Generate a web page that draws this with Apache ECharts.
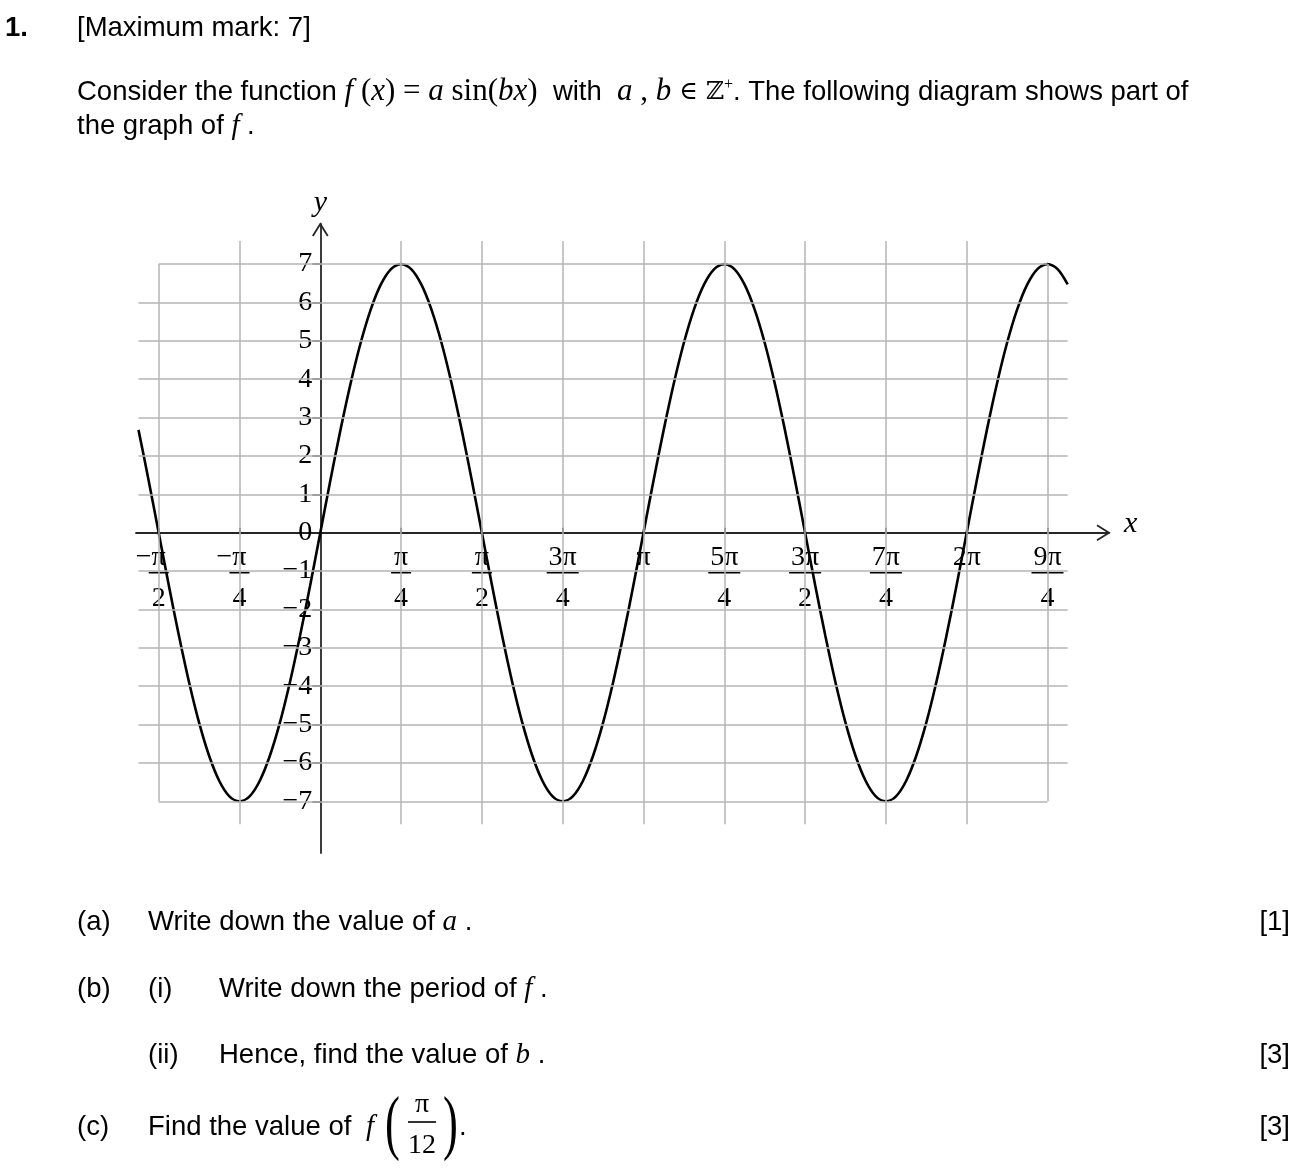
<!DOCTYPE html>
<html>
<head>
<meta charset="utf-8">
<script src="https://cdn.jsdelivr.net/npm/echarts@6/dist/echarts.min.js"></script>
<style>
html,body{margin:0;padding:0;background:#fff;}
#c{width:1306px;height:1174px;}
</style>
</head>
<body>
<div id="c"></div>
<script>
// ---- data (x in multiples of pi) ----
const xPi = [
-0.5625,-0.53125,-0.5,-0.46875,-0.4375,-0.40625,-0.375,-0.34375,-0.3125,-0.28125,-0.25,-0.21875,-0.1875,-0.15625,-0.125,-0.09375,-0.0625,-0.03125,
0,0.03125,0.0625,0.09375,0.125,0.15625,0.1875,0.21875,0.25,0.28125,0.3125,0.34375,0.375,0.40625,0.4375,0.46875,
0.5,0.53125,0.5625,0.59375,0.625,0.65625,0.6875,0.71875,0.75,0.78125,0.8125,0.84375,0.875,0.90625,0.9375,0.96875,
1,1.03125,1.0625,1.09375,1.125,1.15625,1.1875,1.21875,1.25,1.28125,1.3125,1.34375,1.375,1.40625,1.4375,1.46875,
1.5,1.53125,1.5625,1.59375,1.625,1.65625,1.6875,1.71875,1.75,1.78125,1.8125,1.84375,1.875,1.90625,1.9375,1.96875,
2,2.03125,2.0625,2.09375,2.125,2.15625,2.1875,2.21875,2.25,2.28125,2.3125
];
const yVals = [
2.68,1.37,0,-1.37,-2.68,-3.89,-4.95,-5.82,-6.47,-6.87,-7,-6.87,-6.47,-5.82,-4.95,-3.89,-2.68,-1.37,
0,1.37,2.68,3.89,4.95,5.82,6.47,6.87,7,6.87,6.47,5.82,4.95,3.89,2.68,1.37,
0,-1.37,-2.68,-3.89,-4.95,-5.82,-6.47,-6.87,-7,-6.87,-6.47,-5.82,-4.95,-3.89,-2.68,-1.37,
0,1.37,2.68,3.89,4.95,5.82,6.47,6.87,7,6.87,6.47,5.82,4.95,3.89,2.68,1.37,
0,-1.37,-2.68,-3.89,-4.95,-5.82,-6.47,-6.87,-7,-6.87,-6.47,-5.82,-4.95,-3.89,-2.68,-1.37,
0,1.37,2.68,3.89,4.95,5.82,6.47,6.87,7,6.87,6.47
];
const xTickValues = [-0.5,-0.25,0.25,0.5,0.75,1,1.25,1.5,1.75,2,2.25];
const xTickNumer  = ['−π','−π','π','π','3π','π','5π','3π','7π','2π','9π'];
const xTickDenom  = ['2','4','4','2','4','','4','2','4','','4'];
const yTickValues = [-7,-6,-5,-4,-3,-2,-1,0,1,2,3,4,5,6,7];
const yTickLabels = ['−7','−6','−5','−4','−3','−2','−1','0','1','2','3','4','5','6','7'];
const gridXInner = [-0.25,0.25,0.5,0.75,1,1.25,1.5,1.75,2];
const gridYInner = [-6,-5,-4,-3,-2,-1,1,2,3,4,5,6];
const boxX = [-0.5, 2.25];
const boxY = [-7, 7];

// ---- layout constants ----
const GRID = {left:136, right:197, top:224, bottom:321};
const W = 1306 - GRID.left - GRID.right, H = 1174 - GRID.top - GRID.bottom;
const X_MIN = -0.5702, X_MAX = 2.4403, Y_MIN = -8.347, Y_MAX = 8.045;
const GX0 = -0.5625, GX1 = 2.3125, GY = 7.6;
const AX = '#262626';
const SANS = '"Liberation Sans", Arial, sans-serif';
const SERIF = '"Liberation Serif", "Times New Roman", serif';
const yAxisShift = (0 - X_MIN) / (X_MAX - X_MIN) * W;   // distance of x=0 from grid left
const xAxisShift = (0 - Y_MIN) / (Y_MAX - Y_MIN) * H;   // distance of y=0 from grid bottom

const gridMarks = [];
gridXInner.forEach(x => gridMarks.push([{coord:[x,-GY]},{coord:[x,GY]}]));
gridYInner.forEach(y => gridMarks.push([{coord:[GX0,y]},{coord:[GX1,y]}]));
boxX.forEach(x => gridMarks.push([{coord:[x,boxY[0]]},{coord:[x,boxY[1]]}]));
boxY.forEach(y => gridMarks.push([{coord:[boxX[0],y]},{coord:[boxX[1],y]}]));

function xLabel(v){
  const i = xTickValues.findIndex(t => Math.abs(t - v) < 1e-9);
  if (i < 0) return '';
  const num = xTickNumer[i], den = xTickDenom[i];
  const neg = num.charAt(0) === '−';
  const top = neg ? '{n|' + num + '}{sp|}' : '{n|' + num + '}';
  if (!den) return top;
  const core = neg ? num.slice(1) : num;
  const bar = core.length > 1 ? '{barW|}' : '{bar|}';
  return top + '\n' + bar + '\n{d|' + den + '}';
}

const chart = echarts.init(document.getElementById('c'), null, {renderer:'canvas'});
chart.setOption({
  animation:false,
  backgroundColor:'#fff',
  grid:{left:GRID.left, right:GRID.right, top:GRID.top, bottom:GRID.bottom, containLabel:false, outerBoundsMode:'none'},
  xAxis:{
    type:'value', min:X_MIN, max:X_MAX, z:2, position:'bottom', offset:-xAxisShift,
    axisLine:{onZero:false, lineStyle:{color:AX, width:1.8}},
    axisTick:{show:true, customValues:xTickValues, inside:true, length:5, lineStyle:{color:AX, width:1.5}},
    axisLabel:{
      show:true, customValues:xTickValues, formatter:xLabel, margin:10, color:'#000',
      rich:{
        n:{fontFamily:SERIF, fontSize:28, lineHeight:29, color:'#000'},
        sp:{width:16, lineHeight:29},
        bar:{width:20, height:1.6, lineHeight:2, fontSize:1, backgroundColor:'#000'},
        barW:{width:32, height:1.6, lineHeight:2, fontSize:1, backgroundColor:'#000'},
        d:{fontFamily:SERIF, fontSize:28, lineHeight:50, color:'#000'}
      }
    },
    splitLine:{show:false}
  },
  yAxis:{
    type:'value', min:Y_MIN, max:Y_MAX, z:2, position:'left', offset:-yAxisShift,
    name:'y', nameLocation:'end', nameGap:6,
    nameTextStyle:{fontFamily:SERIF, fontStyle:'italic', fontSize:30, color:'#000', align:'center'},
    axisLine:{onZero:false, lineStyle:{color:AX, width:1.8}},
    axisTick:{show:true, customValues:yTickValues, inside:false, length:8, lineStyle:{color:AX, width:1.5}},
    axisLabel:{
      show:true, customValues:yTickValues, margin:8, color:'#000',
      fontFamily:SERIF, fontSize:28,
      formatter:function(v){ const i = yTickValues.findIndex(t => Math.abs(t - v) < 1e-9); return i < 0 ? '' : yTickLabels[i]; }
    },
    splitLine:{show:false}
  },
  series:[
    {
      type:'line', data:[], z:1, silent:true,
      markLine:{
        silent:true, symbol:['none','none'], label:{show:false},
        lineStyle:{type:'solid', color:'#b4b4b4', width:1.5},
        emphasis:{disabled:true},
        data:gridMarks
      }
    },
    {
      type:'line', z:4, silent:true, showSymbol:false, smooth:0.3, clip:false,
      lineStyle:{color:'#000', width:2.6},
      data:xPi.map((x,i)=>[x, yVals[i]])
    }
  ]
});

// ---- text ----
const FS = 27.5, MS = 29;
const richBase = {
  s:{fontFamily:SANS, fontSize:FS, color:'#000'},
  b:{fontFamily:SANS, fontSize:FS, fontWeight:'bold', color:'#000'},
  i:{fontFamily:SERIF, fontStyle:'italic', fontSize:MS, color:'#000'},
  r:{fontFamily:SERIF, fontSize:MS, color:'#000'},
  mi:{fontFamily:SERIF, fontStyle:'italic', fontSize:31, color:'#000'},
  mr:{fontFamily:SERIF, fontSize:31, color:'#000'},
  z:{fontFamily:'"DejaVu Serif", serif', fontSize:25, color:'#000'},
  sup:{fontFamily:SERIF, fontSize:16, color:'#000', padding:[0,0,14,0]}
};
function T(x, y, text, align){
  return {type:'text', x:x, y:y, silent:true, style:{text:text, rich:richBase, align:align||'left', verticalAlign:'middle'}};
}
const texts = [
  T(5, 28, '{b|1.}'),
  T(77, 28, '{s|[Maximum mark: 7]}'),
  T(77, 92, '{s|Consider the function }{mi|f}{mr| (}{mi|x}{mr|) = }{mi|a}{mr| sin(}{mi|bx}{mr|)}{s|  with  }{mi|a}{mr| , }{mi|b}{z| ∈ ℤ}{sup|+}{s|. The following diagram shows part of}'),
  T(77, 126, '{s|the graph of }{i|f}{s| .}'),
  T(77, 922, '{s|(a)}'),
  T(148, 922, '{s|Write down the value of }{i|a}{s| .}'),
  T(1290, 922, '{s|[1]}', 'right'),
  T(77, 989, '{s|(b)}'),
  T(148, 989, '{s|(i)}'),
  T(219, 989, '{s|Write down the period of }{i|f}{s| .}'),
  T(148, 1055, '{s|(ii)}'),
  T(219, 1055, '{s|Hence, find the value of }{i|b}{s| .}'),
  T(1290, 1055, '{s|[3]}', 'right'),
  T(77, 1127, '{s|(c)}'),
  T(148, 1127, '{s|Find the value of }'),
  T(366, 1127, '{i|f}'),
  {type:'text', x:385, y:1127, scaleX:0.62, silent:true, style:{text:'(', fontFamily:SERIF, fontSize:72, fill:'#000', align:'left', verticalAlign:'middle'}},
  {type:'text', x:422, y:1088, silent:true, style:{text:'{n|π}\n{bar|}\n{d|12}', align:'center', verticalAlign:'top',
    rich:{
      n:{fontFamily:SERIF, fontSize:28, lineHeight:33, color:'#000'},
      bar:{width:28, height:1.6, lineHeight:2, fontSize:1, backgroundColor:'#000'},
      d:{fontFamily:SERIF, fontSize:28, lineHeight:45, color:'#000'}
    }}},
  {type:'text', x:443, y:1127, scaleX:0.62, silent:true, style:{text:')', fontFamily:SERIF, fontSize:72, fill:'#000', align:'left', verticalAlign:'middle'}},
  T(459, 1127, '{s|.}'),
  T(1290, 1127, '{s|[3]}', 'right')
];

const tipX = chart.convertToPixel({gridIndex:0}, [X_MAX, 0]);
const tipY = chart.convertToPixel({gridIndex:0}, [0, Y_MAX]);
const extras = [
  {type:'polyline', silent:true, z:10, shape:{points:[[tipX[0]-12, tipX[1]-7.5],[tipX[0], tipX[1]],[tipX[0]-12, tipX[1]+7.5]]}, style:{stroke:AX, lineWidth:1.8, fill:null}},
  {type:'polyline', silent:true, z:10, shape:{points:[[tipY[0]-7.5, tipY[1]+12],[tipY[0], tipY[1]],[tipY[0]+7.5, tipY[1]+12]]}, style:{stroke:AX, lineWidth:1.8, fill:null}},
  {type:'text', silent:true, x:tipX[0]+15, y:tipX[1]-9, style:{text:'x', fontFamily:SERIF, fontStyle:'italic', fontSize:30, fill:'#000', align:'left', verticalAlign:'middle'}}
];
chart.setOption({graphic: texts.concat(extras)});
</script>
</body>
</html>
